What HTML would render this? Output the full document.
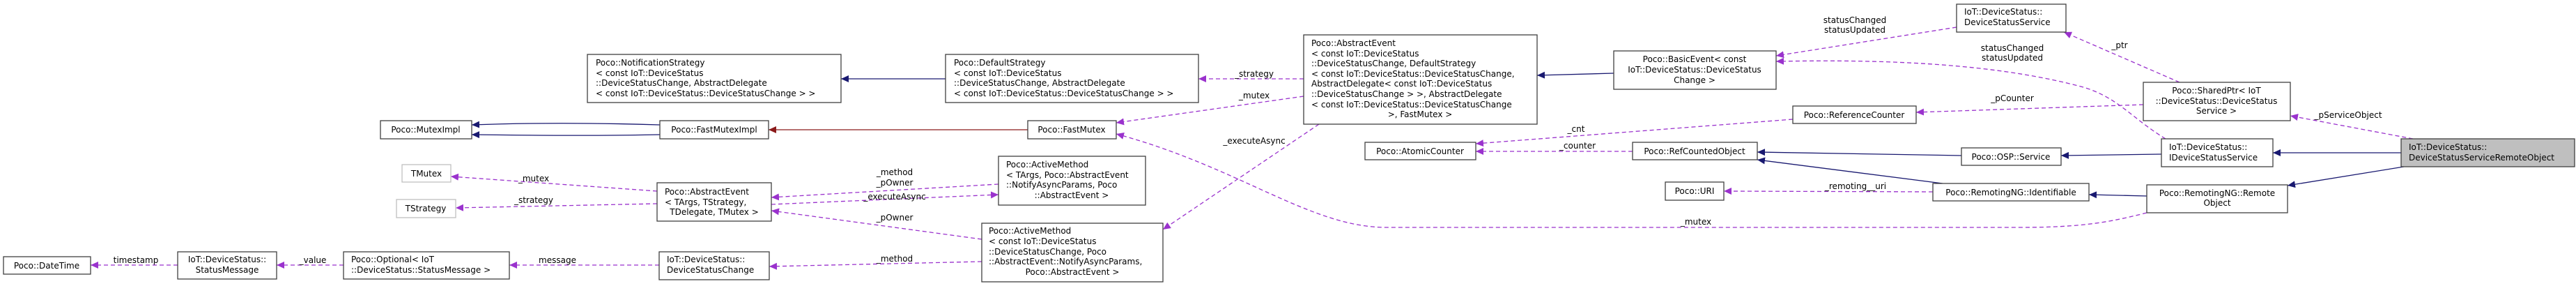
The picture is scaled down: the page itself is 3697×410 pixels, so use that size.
<!DOCTYPE html>
<html><head><meta charset="utf-8"><style>
html,body{margin:0;padding:0;background:#fff;}
svg{display:block;}
text{font-family:"DejaVu Sans","Liberation Sans",sans-serif;font-size:12px;fill:#000;}
.b{fill:#fff;stroke:#404040;stroke-width:1.3;}
.g{fill:#fff;stroke:#bfbfbf;stroke-width:1.3;}
.n{fill:none;stroke:#191970;stroke-width:1.3;}
.r{fill:none;stroke:#8b1a1a;stroke-width:1.3;}
.p{fill:none;stroke:#9a32cd;stroke-width:1.3;stroke-dasharray:6,4;}
</style></head><body>
<svg width="3697" height="410" viewBox="0 0 3697 410" xmlns="http://www.w3.org/2000/svg">
<defs>
<marker id="an" markerWidth="12" markerHeight="10" refX="11" refY="5" orient="auto" markerUnits="userSpaceOnUse"><path d="M0,0 L11,5 L0,10 z" fill="#191970"/></marker>
<marker id="ar" markerWidth="12" markerHeight="10" refX="11" refY="5" orient="auto" markerUnits="userSpaceOnUse"><path d="M0,0 L11,5 L0,10 z" fill="#8b1a1a"/></marker>
<marker id="ap" markerWidth="12" markerHeight="10" refX="11" refY="5" orient="auto" markerUnits="userSpaceOnUse"><path d="M0,0 L11,5 L0,10 z" fill="#9a32cd"/></marker>
</defs>

<!-- edges -->
<path class="n" d="M3446,219 L3262,219" marker-end="url(#an)"/>
<path class="n" d="M3450,239 L3283,266" marker-end="url(#an)"/>
<path class="p" d="M3463,199 L3287,166" marker-end="url(#ap)"/>
<path class="p" d="M3128,118 L2962,46" marker-end="url(#ap)"/>
<path class="p" d="M3076,150 L2750,161" marker-end="url(#ap)"/>
<path class="p" d="M3108,199 C3060,170 3040,140 2990,125 C2860,90 2700,85 2549,88" marker-end="url(#ap)"/>
<path class="p" d="M2808,39 L2549,80" marker-end="url(#ap)"/>
<path class="n" d="M3102,221 L2958,223" marker-end="url(#an)"/>
<path class="n" d="M3081,281 L2998,279" marker-end="url(#an)"/>
<path class="p" d="M3081,305 C3030,318 2990,326 2900,326 L1990,326 C1880,326 1780,240 1602,192" marker-end="url(#ap)"/>
<path class="n" d="M2815,223 L2522,218" marker-end="url(#an)"/>
<path class="n" d="M2788,263 L2522,229" marker-end="url(#an)"/>
<path class="p" d="M2774,275 L2474,274" marker-end="url(#ap)"/>
<path class="p" d="M2343,217 L2118,217" marker-end="url(#ap)"/>
<path class="p" d="M2573,171 L2118,206" marker-end="url(#ap)"/>
<path class="n" d="M2316,105 L2206,108" marker-end="url(#an)"/>
<path class="p" d="M1871,113 L1720,113" marker-end="url(#ap)"/>
<path class="p" d="M1871,138 L1602,176" marker-end="url(#ap)"/>
<path class="p" d="M1893,178 L1669,329" marker-end="url(#ap)"/>
<path class="n" d="M1357,113 L1207,113" marker-end="url(#an)"/>
<path class="r" d="M1475,186 L1103,186" marker-end="url(#ar)"/>
<path class="n" d="M947,179 C850,176 760,176 677,179" marker-end="url(#an)"/>
<path class="n" d="M947,193 C850,195 760,194 677,193" marker-end="url(#an)"/>
<path class="p" d="M1433,264 L1107,283" marker-end="url(#ap)"/>
<path class="p" d="M1107,293 L1433,279" marker-end="url(#ap)"/>
<path class="p" d="M1409,343 L1107,302" marker-end="url(#ap)"/>
<path class="p" d="M1409,375 L1104,382" marker-end="url(#ap)"/>
<path class="p" d="M943,274 L647,253" marker-end="url(#ap)"/>
<path class="p" d="M943,292 L654,298" marker-end="url(#ap)"/>
<path class="p" d="M946,380 L731,380" marker-end="url(#ap)"/>
<path class="p" d="M493,380 L397,380" marker-end="url(#ap)"/>
<path class="p" d="M255,380 L130,380" marker-end="url(#ap)"/>

<!-- edge labels -->
<g text-anchor="middle">
<text x="3370" y="169">_pServiceObject</text>
<text x="3042" y="69">_ptr</text>
<text x="2888" y="145">_pCounter</text>
<text x="2888" y="73">statusChanged</text>
<text x="2888" y="87">statusUpdated</text>
<text x="2662" y="33">statusChanged</text>
<text x="2662" y="47">statusUpdated</text>
<text x="2663" y="271">_remoting__uri</text>
<text x="2434" y="322">_mutex</text>
<text x="2262" y="189">_cnt</text>
<text x="2264" y="213">_counter</text>
<text x="1800" y="110">_strategy</text>
<text x="1800" y="141">_mutex</text>
<text x="1800" y="206">_executeAsync</text>
<text x="1284" y="251">_method</text>
<text x="1284" y="266">_pOwner</text>
<text x="1284" y="286">_executeAsync</text>
<text x="1284" y="316">_pOwner</text>
<text x="1284" y="375">_method</text>
<text x="766" y="260">_mutex</text>
<text x="766" y="291">_strategy</text>
<text x="800" y="377">message</text>
<text x="449" y="377">_value</text>
<text x="195" y="377">timestamp</text>
</g>

<!-- nodes -->
<rect class="b" x="5" y="368" width="125" height="25"/>
<text x="67" y="385" text-anchor="middle">Poco::DateTime</text>

<rect class="b" x="255" y="361" width="142" height="39"/>
<text x="326" y="376" text-anchor="middle">IoT::DeviceStatus::</text>
<text x="326" y="391" text-anchor="middle">StatusMessage</text>

<rect class="b" x="493" y="361" width="238" height="39"/>
<text x="504" y="376">Poco::Optional&lt; IoT</text>
<text x="504" y="391">::DeviceStatus::StatusMessage &gt;</text>

<rect class="b" x="546" y="173" width="131" height="26"/>
<text x="611" y="190" text-anchor="middle">Poco::MutexImpl</text>

<rect class="g" x="577" y="236" width="70" height="25"/>
<text x="612" y="253" text-anchor="middle">TMutex</text>

<rect class="g" x="569" y="286" width="85" height="26"/>
<text x="611" y="303" text-anchor="middle">TStrategy</text>

<rect class="b" x="843" y="78" width="364" height="69"/>
<text x="855" y="94">Poco::NotificationStrategy</text>
<text x="855" y="109">&lt; const IoT::DeviceStatus</text>
<text x="855" y="123">::DeviceStatusChange, AbstractDelegate</text>
<text x="855" y="138">&lt; const IoT::DeviceStatus::DeviceStatusChange &gt; &gt;</text>

<rect class="b" x="1357" y="78" width="363" height="69"/>
<text x="1369" y="94">Poco::DefaultStrategy</text>
<text x="1369" y="109">&lt; const IoT::DeviceStatus</text>
<text x="1369" y="123">::DeviceStatusChange, AbstractDelegate</text>
<text x="1369" y="138">&lt; const IoT::DeviceStatus::DeviceStatusChange &gt; &gt;</text>

<rect class="b" x="947" y="173" width="156" height="26"/>
<text x="1025" y="190" text-anchor="middle">Poco::FastMutexImpl</text>

<rect class="b" x="1475" y="173" width="127" height="26"/>
<text x="1538" y="190" text-anchor="middle">Poco::FastMutex</text>

<rect class="b" x="943" y="262" width="164" height="55"/>
<text x="954" y="279">Poco::AbstractEvent</text>
<text x="954" y="294">&lt; TArgs, TStrategy,</text>
<text x="1025" y="308" text-anchor="middle">TDelegate, TMutex &gt;</text>

<rect class="b" x="1433" y="224" width="211" height="70"/>
<text x="1444" y="240">Poco::ActiveMethod</text>
<text x="1444" y="255">&lt; TArgs, Poco::AbstractEvent</text>
<text x="1444" y="269">::NotifyAsyncParams, Poco</text>
<text x="1538" y="284" text-anchor="middle">::AbstractEvent &gt;</text>

<rect class="b" x="1409" y="320" width="260" height="84"/>
<text x="1419" y="335">Poco::ActiveMethod</text>
<text x="1419" y="350">&lt; const IoT::DeviceStatus</text>
<text x="1419" y="365">::DeviceStatusChange, Poco</text>
<text x="1419" y="379">::AbstractEvent::NotifyAsyncParams,</text>
<text x="1539" y="394" text-anchor="middle">Poco::AbstractEvent &gt;</text>

<rect class="b" x="946" y="361" width="158" height="40"/>
<text x="957" y="376">IoT::DeviceStatus::</text>
<text x="957" y="391">DeviceStatusChange</text>

<rect class="b" x="1871" y="50" width="335" height="128"/>
<text x="1882" y="66">Poco::AbstractEvent</text>
<text x="1882" y="81">&lt; const IoT::DeviceStatus</text>
<text x="1882" y="95">::DeviceStatusChange, DefaultStrategy</text>
<text x="1882" y="110">&lt; const IoT::DeviceStatus::DeviceStatusChange,</text>
<text x="1882" y="124"> AbstractDelegate&lt; const IoT::DeviceStatus</text>
<text x="1882" y="139">::DeviceStatusChange &gt; &gt;, AbstractDelegate</text>
<text x="1882" y="154">&lt; const IoT::DeviceStatus::DeviceStatusChange</text>
<text x="2038" y="168" text-anchor="middle">&gt;, FastMutex &gt;</text>

<rect class="b" x="1959" y="204" width="159" height="25"/>
<text x="2038" y="221" text-anchor="middle">Poco::AtomicCounter</text>

<rect class="b" x="2316" y="73" width="233" height="55"/>
<text x="2432" y="89" text-anchor="middle">Poco::BasicEvent&lt; const</text>
<text x="2432" y="104" text-anchor="middle">IoT::DeviceStatus::DeviceStatus</text>
<text x="2432" y="119" text-anchor="middle">Change &gt;</text>

<rect class="b" x="2343" y="204" width="179" height="25"/>
<text x="2432" y="221" text-anchor="middle">Poco::RefCountedObject</text>

<rect class="b" x="2808" y="6" width="157" height="40"/>
<text x="2819" y="21">IoT::DeviceStatus::</text>
<text x="2819" y="36">DeviceStatusService</text>

<rect class="b" x="2573" y="152" width="177" height="25"/>
<text x="2661" y="169" text-anchor="middle">Poco::ReferenceCounter</text>

<rect class="b" x="2815" y="212" width="143" height="25"/>
<text x="2886" y="229" text-anchor="middle">Poco::OSP::Service</text>

<rect class="b" x="2390" y="261" width="84" height="26"/>
<text x="2432" y="278" text-anchor="middle">Poco::URI</text>

<rect class="b" x="2774" y="263" width="224" height="25"/>
<text x="2886" y="280" text-anchor="middle">Poco::RemotingNG::Identifiable</text>

<rect class="b" x="3076" y="118" width="211" height="55"/>
<text x="3181" y="134" text-anchor="middle">Poco::SharedPtr&lt; IoT</text>
<text x="3181" y="149" text-anchor="middle">::DeviceStatus::DeviceStatus</text>
<text x="3181" y="163" text-anchor="middle">Service &gt;</text>

<rect class="b" x="3102" y="199" width="160" height="40"/>
<text x="3113" y="215">IoT::DeviceStatus::</text>
<text x="3113" y="230">IDeviceStatusService</text>

<rect x="3446" y="199" width="249" height="40" fill="#bfbfbf" stroke="#404040" stroke-width="1.3"/>
<text x="3457" y="215">IoT::DeviceStatus::</text>
<text x="3457" y="230">DeviceStatusServiceRemoteObject</text>

<rect class="b" x="3081" y="265" width="202" height="40"/>
<text x="3182" y="281" text-anchor="middle">Poco::RemotingNG::Remote</text>
<text x="3182" y="295" text-anchor="middle">Object</text>
</svg>
</body></html>
